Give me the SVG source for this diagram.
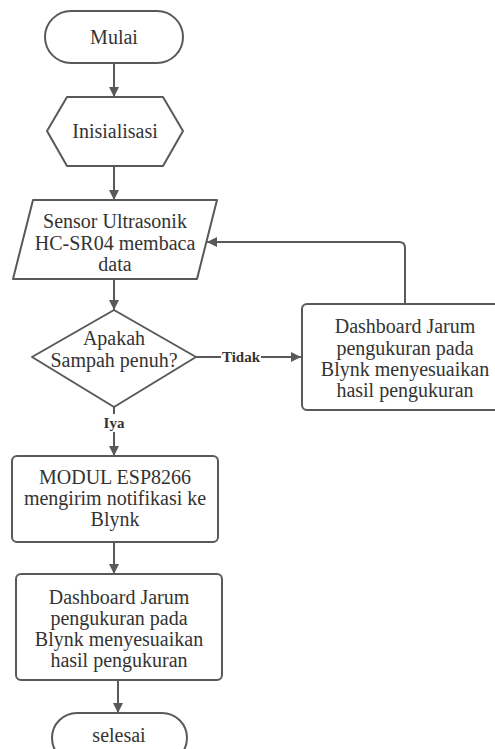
<svg xmlns="http://www.w3.org/2000/svg" width="495" height="749" viewBox="0 0 495 749">
<style>
.shape{fill:#fff;stroke:#595959;stroke-width:2;stroke-linejoin:round}
.t{font-family:"Liberation Serif","Times New Roman",serif;font-size:20px;fill:#333;text-anchor:middle}
.lbl{font-family:"Liberation Serif","Times New Roman",serif;font-size:15px;font-weight:bold;fill:#333;text-anchor:middle}
.c{fill:none;stroke:#595959;stroke-width:2}
</style>
<defs>
<marker id="ah" viewBox="0 0 10 10" refX="10" refY="5" markerWidth="10" markerHeight="10" markerUnits="userSpaceOnUse" orient="auto">
<path d="M0,0 L10,5 L0,10 Z" fill="#595959"/>
</marker>
</defs>
<rect width="495" height="749" fill="#fff"/>
<g id="connectors">
<path class="c" d="M114,63 L114,97" marker-end="url(#ah)"/>
<path class="c" d="M114,166 L114,200" marker-end="url(#ah)"/>
<path class="c" d="M114,279 L114,310" marker-end="url(#ah)"/>
<path class="c" d="M196,357 L221,357"/>
<path class="c" d="M261,357 L301,357" marker-end="url(#ah)"/>
<path class="c" d="M405,304 L405,248 Q405,242 399,242 L207,242" marker-end="url(#ah)"/>
<path class="c" d="M114,407 L114,414"/>
<path class="c" d="M114,432 L114,456" marker-end="url(#ah)"/>
<path class="c" d="M114,542 L114,574" marker-end="url(#ah)"/>
<path class="c" d="M118,680 L118,713" marker-end="url(#ah)"/>
<text class="lbl" x="241" y="362">Tidak</text>
<text class="lbl" x="114" y="428">Iya</text>
</g>
<g id="mulai">
<rect class="shape" x="45" y="11" width="138" height="52" rx="26"/>
<text class="t" x="114" y="44">Mulai</text>
</g>
<g id="inisialisasi">
<polygon class="shape" points="47,131 67,97 163,97 183,131 163,166 67,166"/>
<text class="t" x="115" y="138">Inisialisasi</text>
</g>
<g id="sensor">
<path class="shape" d="M33,200 L217,200 L197,279 L13,279 Z"/>
<text class="t" x="115" y="228">Sensor Ultrasonik</text>
<text class="t" x="115" y="250">HC-SR04 membaca</text>
<text class="t" x="115" y="271">data</text>
</g>
<g id="decision">
<polygon class="shape" points="114,310 196,357 114,407 32,357"/>
<text class="t" x="114" y="345">Apakah</text>
<text class="t" x="114" y="367">Sampah penuh?</text>
</g>
<g id="dashboard-right">
<rect class="shape" x="302" y="304" width="206" height="106" rx="5"/>
<text class="t" x="405" y="333">Dashboard Jarum</text>
<text class="t" x="405" y="355">pengukuran pada</text>
<text class="t" x="405" y="376">Blynk menyesuaikan</text>
<text class="t" x="405" y="397">hasil pengukuran</text>
</g>
<g id="modul">
<rect class="shape" x="12" y="456" width="206" height="86" rx="5"/>
<text class="t" x="115" y="484">MODUL ESP8266</text>
<text class="t" x="115" y="505">mengirim notifikasi ke</text>
<text class="t" x="115" y="526">Blynk</text>
</g>
<g id="dashboard-bottom">
<rect class="shape" x="16" y="574" width="206" height="106" rx="5"/>
<text class="t" x="119" y="604">Dashboard Jarum</text>
<text class="t" x="119" y="625">pengukuran pada</text>
<text class="t" x="119" y="646">Blynk menyesuaikan</text>
<text class="t" x="119" y="667">hasil pengukuran</text>
</g>
<g id="selesai">
<rect class="shape" x="52" y="713" width="135" height="50" rx="25"/>
<text class="t" x="119" y="742">selesai</text>
</g>
</svg>
